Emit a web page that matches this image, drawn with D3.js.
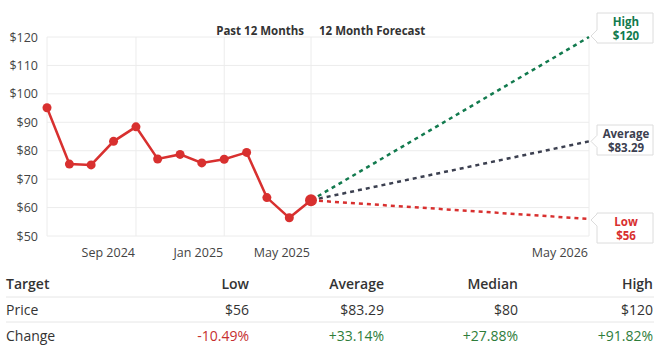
<!DOCTYPE html>
<html>
<head>
<meta charset="utf-8">
<script src="https://cdn.jsdelivr.net/npm/d3@7"></script>
<style>
  body { margin: 0; background: #fff; font-family: "Open Sans", "Noto Sans", sans-serif; }
</style>
</head>
<body>
<div id="chart"></div>
<script>
// past 12 months closing prices (monthly)
const months = ["2024-05", "2024-06", "2024-07", "2024-08", "2024-09", "2024-10", "2024-11",
  "2024-12", "2025-01", "2025-02", "2025-03", "2025-04", "2025-05"];
const prices = [95.1, 75.3, 75.0, 83.3, 88.4, 77.1, 78.7, 75.7, 77.0, 79.4, 63.5, 56.4, 62.56];

// analyst targets
const targetNames = ["High", "Average", "Low"];
const targetValues = [120, 83.29, 56];
const targetColors = ["#127a4e", "#3c4050", "#d8302f"];
const forecastEnd = "2026-05";

const yTicks = [50, 60, 70, 80, 90, 100, 110, 120];
const xTicks = ["2024-09", "2025-01", "2025-05", "2026-05"];

// table
const tableCols = ["Target", "Low", "Average", "Median", "High"];
const tablePrice = ["Price", "$56", "$83.29", "$80", "$120"];
const tableChange = ["Change", "-10.49%", "+33.14%", "+27.88%", "+91.82%"];

const parse = d3.timeParse("%Y-%m");
const W = 660, H = 358;

const svg = d3.select("#chart").append("svg")
  .attr("width", W).attr("height", H)
  .style("font-family", '"Open Sans", "Noto Sans", sans-serif');

const t0 = parse(months[0]), tNow = parse(months[months.length - 1]), tEnd = parse(forecastEnd);
// past and forecast halves get their own widths
const x = d3.scaleTime().domain([t0, tNow, tEnd]).range([47, 311, 589]);
const y = d3.scaleLinear().domain([50, 120]).range([236, 37]);

// grid
svg.append("g").selectAll("line").data(yTicks).join("line")
  .attr("x1", 47).attr("x2", 589)
  .attr("y1", d => y(d)).attr("y2", d => y(d))
  .attr("stroke", "#ececec").attr("stroke-width", 1);
svg.append("g").selectAll("line").data([months[0]].concat(xTicks)).join("line")
  .attr("x1", d => x(parse(d))).attr("x2", d => x(parse(d)))
  .attr("y1", 37).attr("y2", 236)
  .attr("stroke", "#ececec").attr("stroke-width", 1);

// y axis labels
svg.append("g").selectAll("text").data(yTicks).join("text")
  .attr("x", 38).attr("y", d => y(d) + 4.5)
  .attr("text-anchor", "end").attr("font-size", 12.5).attr("fill", "#444")
  .text(d => "$" + d);

// x axis labels
const fmt = d3.timeFormat("%b %Y");
svg.append("g").selectAll("text").data(xTicks).join("text")
  .attr("x", d => x(parse(d)) - 1).attr("y", 257)
  .attr("text-anchor", "end").attr("font-size", 12.5).attr("fill", "#444")
  .text(d => fmt(parse(d)));

// titles
svg.append("text").attr("x", 304).attr("y", 35).attr("text-anchor", "end")
  .attr("font-size", 11.5).attr("font-weight", "bold").attr("fill", "#333").text("Past 12 Months");
svg.append("text").attr("x", 319).attr("y", 35).attr("text-anchor", "start")
  .attr("font-size", 11.5).attr("font-weight", "bold").attr("fill", "#333").text("12 Month Forecast");

// forecast lines
const lastPrice = prices[prices.length - 1];
targetValues.forEach((v, i) => {
  svg.append("line")
    .attr("x1", x(tNow)).attr("y1", y(lastPrice))
    .attr("x2", x(tEnd)).attr("y2", y(v))
    .attr("stroke", targetColors[i]).attr("stroke-width", 2.5)
    .attr("stroke-dasharray", "4,4");
});

// past line
const line = d3.line().x((d, i) => x(parse(months[i]))).y(d => y(d));
svg.append("path").datum(prices)
  .attr("d", line).attr("fill", "none")
  .attr("stroke", "#d8302f").attr("stroke-width", 2.5);
svg.append("g").selectAll("circle").data(prices).join("circle")
  .attr("cx", (d, i) => x(parse(months[i]))).attr("cy", d => y(d))
  .attr("r", (d, i) => i === prices.length - 1 ? 6 : 4.5)
  .attr("fill", "#d8302f");

// callouts
const boxTop = [13, 125, 213];
targetValues.forEach((v, i) => {
  const ay = y(v), ax = x(tEnd) + 2;
  const bx = 597, bw = 56, bh = 30, by = boxTop[i];
  const tipY = Math.max(by + 7, Math.min(by + bh - 7, ay));
  const p = d3.path();
  p.moveTo(bx, by); p.lineTo(bx + bw, by); p.lineTo(bx + bw, by + bh); p.lineTo(bx, by + bh);
  p.lineTo(bx, tipY + 6); p.lineTo(ax, tipY); p.lineTo(bx, tipY - 6); p.closePath();
  svg.append("path").attr("d", p.toString())
    .attr("fill", "#fff").attr("stroke", "#dcdcdc").attr("stroke-width", 1);
  const lines = [targetNames[i], "$" + (v % 1 ? v.toFixed(2) : v)];
  lines.forEach((s, k) => {
    svg.append("text").attr("text-anchor", "middle").attr("font-size", 11.5)
      .attr("font-weight", "bold").attr("fill", targetColors[i])
      .attr("x", bx + bw / 2 + 1).attr("y", by + 12.5 + k * 14)
      .text(s);
  });
});

// table
const colRight = [null, 249, 384, 518, 653];
const rowY = [289, 315, 341];
[297, 322].forEach(ly => svg.append("line").attr("x1", 6).attr("x2", 654)
  .attr("y1", ly).attr("y2", ly).attr("stroke", "#e6e6e6"));
const changeColor = s => s.startsWith("-") ? "#c62f2f" : s.startsWith("+") ? "#2e7d3a" : "#333";
[tableCols, tablePrice, tableChange].forEach((row, r) => {
  svg.append("g").selectAll("text").data(row).join("text")
    .attr("x", (d, i) => i === 0 ? 6 : colRight[i])
    .attr("y", rowY[r])
    .attr("text-anchor", (d, i) => i === 0 ? "start" : "end")
    .attr("font-size", 14)
    .attr("font-weight", r === 0 ? 600 : 400)
    .attr("fill", (d, i) => r === 2 && i > 0 ? changeColor(d) : "#333")
    .text(d => d);
});
</script>
</body>
</html>
